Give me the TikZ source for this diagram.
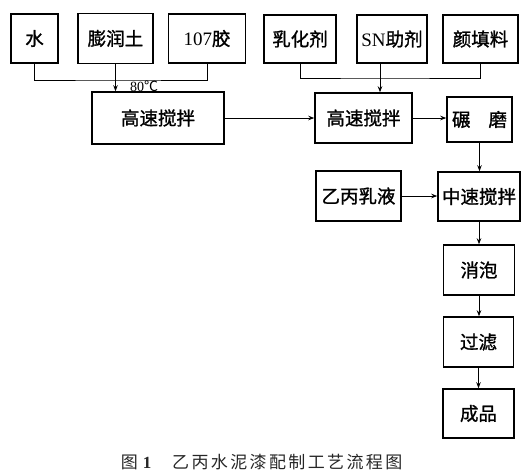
\documentclass[tikz,border=0pt]{standalone}
\usepackage{fontspec}
\newfontfamily\cjk[FakeBold=1.2]{Noto Sans CJK SC}
\newfontfamily\cjkc{Noto Sans CJK SC}
\newfontfamily\lat{Liberation Serif}
\usetikzlibrary{arrows.meta}
\tikzset{
  box/.style={draw, line width=1.5pt, inner sep=0pt, font=\cjk\fontsize{18.5}{21}\selectfont},
  conn/.style={line width=0.8pt},
  arr/.style={conn, -{Stealth[length=6pt,width=4.5pt]}}
}
\begin{document}
\begin{tikzpicture}[x=1pt,y=-1pt]
\useasboundingbox (0,0) rectangle (532,475);
% top row
\node[box, minimum width=47pt, minimum height=49pt] (water) at (34.5,38.5) {水};
\node[box, minimum width=75pt, minimum height=50pt] (bent) at (115.5,38.5) {膨润土};
\node[box, minimum width=77pt, minimum height=49pt] (glue) at (207,38.5) {{\lat\fontsize{19}{21}\selectfont 107}胶};
\node[box, minimum width=72pt, minimum height=48pt] (emul) at (300,39) {乳化剂};
\node[box, minimum width=70pt, minimum height=48pt] (sn) at (392,39) {{\lat\fontsize{19}{21}\selectfont SN}助剂};
\node[box, minimum width=75pt, minimum height=48pt] (pig) at (480.5,39) {颜填料};
% process
\node[box, minimum width=132pt, minimum height=52pt] (hs1) at (158,118) {高速搅拌};
\node[box, minimum width=97pt, minimum height=50pt] (hs2) at (363.5,118) {高速搅拌};
\node[box, minimum width=65pt, minimum height=45pt] (mill) at (479.5,119.5) {碾\hspace{18pt}磨};
\node[box, minimum width=85pt, minimum height=50pt] (latex) at (358.5,196) {乙丙乳液};
\node[box, minimum width=82pt, minimum height=49pt] (ms) at (479,196.5) {中速搅拌};
\node[box, minimum width=71pt, minimum height=50pt] (defoam) at (479,270) {消泡};
\node[box, minimum width=70pt, minimum height=50pt] (filt) at (478.5,342) {过滤};
\node[box, minimum width=71pt, minimum height=49pt] (prod) at (478.5,413.5) {成品};
% junctions
\coordinate (j1) at (115.5,80);
\coordinate (j2) at (380,78);
% group 1
\draw[conn] (water.south) |- (j1) -| (glue.south);
\draw[arr] (bent.south) -- (bent.south |- hs1.north);
\node[font=\fontsize{14}{16}\selectfont, anchor=west, inner sep=0pt] (temp) at (130,86) {{\lat 80}{\cjkc ℃}};
% group 2
\draw[conn] (emul.south) |- (j2) -| (pig.south);
\draw[arr] (sn.south -| j2) -- (j2 |- hs2.north);
% flow
\draw[arr] (hs1.east) -- (hs2.west);
\draw[arr] (hs2.east) -- (hs2.east -| mill.west);
\draw[arr] (mill.south) -- (mill.south |- ms.north);
\draw[arr] (latex.east) -- (latex.east -| ms.west);
\draw[arr] (ms.south) -- (ms.south |- defoam.north);
\draw[arr] (defoam.south) -- (defoam.south |- filt.north);
\draw[arr] (filt.south) -- (filt.south |- prod.north);
% caption
\node[font=\cjkc\fontsize{17}{20}\selectfont, text=black!85, inner sep=0pt] (capa) at (136,462) {图\hspace{5pt}{\lat\bfseries 1}};
\node[font=\cjkc\fontsize{17}{20}\selectfont\addfontfeature{LetterSpace=14}, text=black!85, inner sep=0pt, anchor=west] (capb) at (172,462) {乙丙水泥漆配制工艺流程图};
\end{tikzpicture}
\end{document}
